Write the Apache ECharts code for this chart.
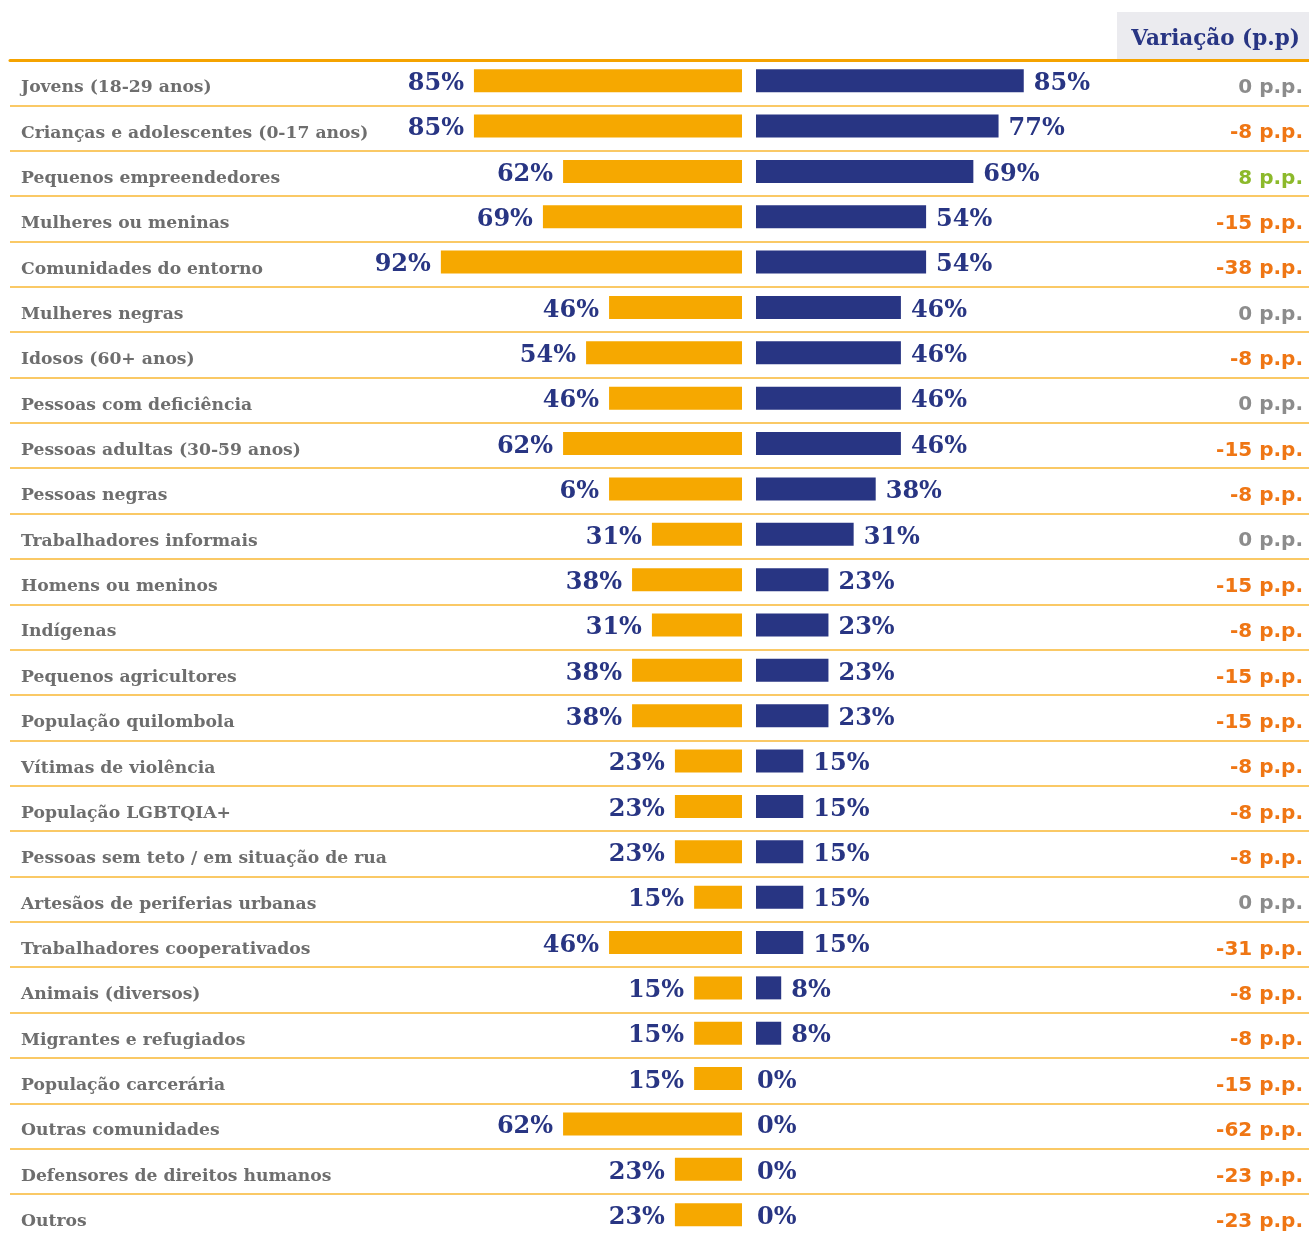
<!DOCTYPE html>
<html>
<head>
<meta charset="utf-8">
<script src="https://cdn.jsdelivr.net/npm/echarts@6/dist/echarts.min.js"></script>
<style>
  html, body { margin: 0; padding: 0; background: #fff; overflow: hidden; }
  #main { width: 1309px; height: 1250px; }
</style>
</head>
<body>
<div id="main"></div>
<script>
// público atingido: categorias
var categories = [
  'Jovens (18-29 anos)', 'Crianças e adolescentes (0-17 anos)', 'Pequenos empreendedores',
  'Mulheres ou meninas', 'Comunidades do entorno', 'Mulheres negras', 'Idosos (60+ anos)',
  'Pessoas com deficiência', 'Pessoas adultas (30-59 anos)', 'Pessoas negras',
  'Trabalhadores informais', 'Homens ou meninos', 'Indígenas', 'Pequenos agricultores',
  'População quilombola', 'Vítimas de violência', 'População LGBTQIA+',
  'Pessoas sem teto / em situação de rua', 'Artesãos de periferias urbanas',
  'Trabalhadores cooperativados', 'Animais (diversos)', 'Migrantes e refugiados',
  'População carcerária', 'Outras comunidades', 'Defensores de direitos humanos', 'Outros'
];
// barras laranja (comprimento) e os rótulos impressos
var leftValues = [85.1, 85.1, 56.8, 63.2, 95.6, 42.2, 49.5, 42.2, 56.8, 42.2, 28.6, 34.9, 28.6,
  34.9, 34.9, 21.3, 21.3, 21.3, 15.2, 42.2, 15.2, 15.2, 15.2, 56.8, 21.3, 21.3];
var leftLabels = ['85%', '85%', '62%', '69%', '92%', '46%', '54%', '46%', '62%', '6%', '31%', '38%', '31%',
  '38%', '38%', '23%', '23%', '23%', '15%', '46%', '15%', '15%', '15%', '62%', '23%', '23%'];
// barras azuis
var rightValues = [85, 77, 69, 54, 54, 46, 46, 46, 46, 38, 31, 23, 23, 23, 23, 15, 15, 15, 15, 15, 8, 8, 0, 0, 0, 0];
// variação em p.p.
var variation = [0, -8, 8, -15, -38, 0, -8, 0, -15, -8, 0, -15, -8, -15, -15, -8, -8, -8, 0, -31, -8, -8, -15, -62, -23, -23];

var NAVY = '#283583', ORANGE = '#f6a800';
var rowTop = 60, rowH = 45.36;
var gridH = rowH * categories.length;

var myChart = echarts.init(document.getElementById('main'));

var valueLabel = {
  show: true, color: NAVY, fontFamily: 'DejaVu Serif', fontWeight: 'bold', fontSize: 24,
  distance: 10, offset: [0, 3]
};

var rightData = rightValues.map(function (v) {
  return v === 0 ? { value: v, label: { distance: 1 } } : v;
});

var varFont = { fontFamily: 'DejaVu Sans', fontWeight: 'bold', fontSize: 20 };

myChart.setOption({
  animation: false,
  graphic: [
    { type: 'rect', shape: { x: 1117, y: 12, width: 192, height: 48 }, style: { fill: '#ebebef' }, z: 0 },
    { type: 'text', right: 9, top: 28,
      style: { text: 'Variação (p.p)', fill: NAVY, font: 'bold 21.5px "DejaVu Serif"' } }
  ],
  grid: [
    { left: 10, right: 0, top: rowTop, height: gridH },
    { left: 742 - 315, width: 315, top: rowTop - 2, height: gridH },
    { left: 756, width: 315, top: rowTop - 2, height: gridH },
    { left: 10, right: 0, top: rowTop + 5, height: gridH }
  ],
  xAxis: [
    { gridIndex: 0, type: 'value', position: 'top', min: 0, max: 1, axisLabel: { show: false },
      axisTick: { show: false }, splitLine: { show: false },
      axisLine: { show: true, onZero: false, lineStyle: { color: '#f5a300', width: 3 } } },
    { gridIndex: 1, type: 'value', min: 0, max: 100, inverse: true, show: false },
    { gridIndex: 2, type: 'value', min: 0, max: 100, show: false },
    { gridIndex: 3, type: 'value', min: 0, max: 1, show: false }
  ],
  yAxis: [
    // linhas separadoras
    { gridIndex: 0, type: 'category', inverse: true, data: categories,
      axisLine: { show: false }, axisTick: { show: false }, axisLabel: { show: false },
      splitLine: { show: true, interval: 0, lineStyle: { color: '#f8b733', width: 1.5 } } },
    { gridIndex: 1, type: 'category', inverse: true, data: categories, show: false },
    { gridIndex: 2, type: 'category', inverse: true, data: categories, show: false },
    // nomes das categorias
    { gridIndex: 3, type: 'category', inverse: true, data: categories, position: 'left',
      axisLine: { show: false }, axisTick: { show: false }, splitLine: { show: false },
      axisLabel: { inside: true, margin: 11, interval: 0, color: '#6e6e6e',
        fontFamily: 'DejaVu Serif', fontWeight: 'bold', fontSize: 17.2 } },
    // variação
    { gridIndex: 3, type: 'category', inverse: true, data: categories, position: 'right',
      axisLine: { show: false }, axisTick: { show: false }, splitLine: { show: false },
      axisLabel: { inside: true, margin: 6, interval: 0,
        formatter: function (v, i) {
          var d = variation[i];
          var k = d > 0 ? 'pos' : (d < 0 ? 'neg' : 'zero');
          return '{' + k + '|' + d + ' p.p.}';
        },
        rich: {
          pos: Object.assign({ color: '#8cb92b' }, varFont),
          neg: Object.assign({ color: '#ef7614' }, varFont),
          zero: Object.assign({ color: '#8c8c8c' }, varFont)
        } } }
  ],
  series: [
    { type: 'bar', xAxisIndex: 1, yAxisIndex: 1, barWidth: 23, data: leftValues,
      itemStyle: { color: ORANGE },
      label: Object.assign({}, valueLabel, { position: 'left',
        formatter: function (p) { return leftLabels[p.dataIndex]; } }) },
    { type: 'bar', xAxisIndex: 2, yAxisIndex: 2, barWidth: 23, data: rightData,
      itemStyle: { color: NAVY },
      label: Object.assign({}, valueLabel, { position: 'right', formatter: '{c}%' }) }
  ]
});
</script>
</body>
</html>
